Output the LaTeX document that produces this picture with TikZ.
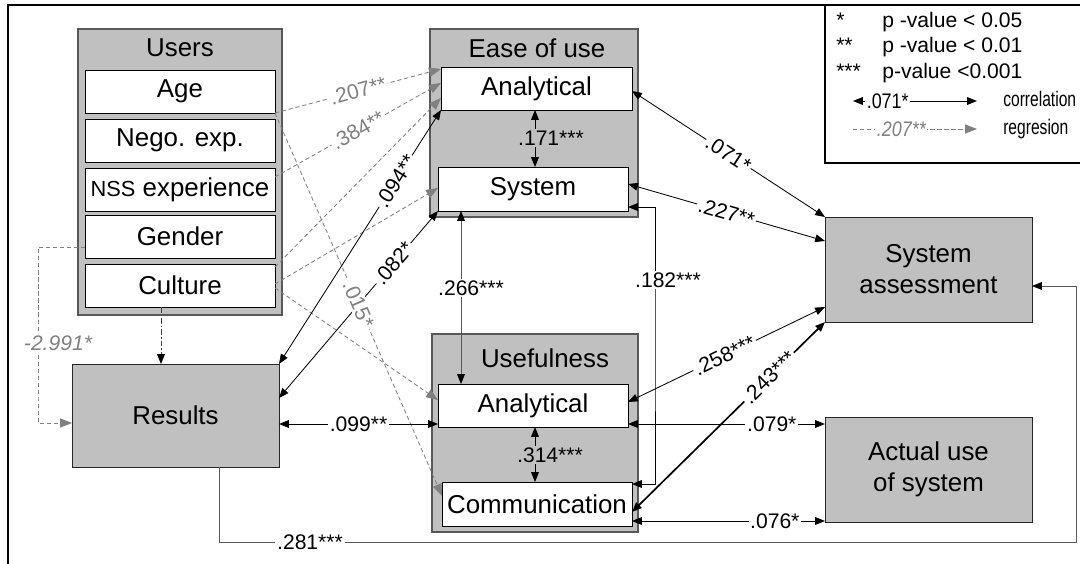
\documentclass[tikz,border=0pt]{standalone}
\usepackage{fontspec}
\setmainfont{Liberation Sans}
\usepackage{graphicx}
\usetikzlibrary{arrows.meta}
\definecolor{boxgray}{RGB}{192,192,192}
\definecolor{reggray}{RGB}{128,128,128}
\newcommand{\bfs}{\fontsize{18.4}{22}\selectfont}
\newcommand{\lfs}{\fontsize{15}{17}\selectfont}
\begin{document}
\begin{tikzpicture}[x=0.025cm,y=-0.025cm,
  sz/.style 2 args={minimum width=#1*0.025cm,minimum height=#2*0.025cm},
  grp/.style={draw=black!65,fill=boxgray,line width=1pt,inner sep=0pt,outer sep=0pt},
  wbox/.style={draw=black,fill=white,line width=0.6pt,inner sep=0pt,outer sep=0pt,font=\bfs},
  gbox/.style={draw=black!85,fill=boxgray,line width=0.7pt,inner sep=0pt,outer sep=0pt,font=\bfs,align=center},
  ttl/.style={font=\bfs,inner sep=0pt},
  lt/.style={font=\lfs,inner sep=0pt,anchor=base west},
  corr/.style={line width=0.6pt,arrows={Triangle[length=7pt,width=5.5pt,color=black]-Triangle[length=7pt,width=5.5pt,color=black]}},
  sline/.style={draw=black!65,line width=0.7pt,arrows={-Triangle[length=7pt,width=5.5pt,color=black]}},
  reg/.style={draw=reggray,line width=0.6pt,dash pattern=on 3pt off 2pt,arrows={-Triangle[length=8.5pt,width=6.5pt]}},
  cdash/.style={draw=black!75,line width=0.7pt,dash pattern=on 4pt off 1.5pt on 1pt off 1.5pt,arrows={-Triangle[length=7pt,width=5.5pt,color=black]}},
  lbl/.style={font=\lfs,fill=white,inner sep=1.2pt},
  glbl/.style={lbl,text=reggray}]
\useasboundingbox (0,0) rectangle (1080,564);
\clip (0,0) rectangle (1080,564);
\fill[white] (0,0) rectangle (1080,564);
% frame
\draw[line width=1pt] (8,570) -- (8,5) -- (1090,5);
% legend
\node[draw=black,line width=0.9pt,fill=white,inner sep=0pt,sz={270}{158}] (leg) at (960,84) {};
\node[lt] (k1) at (836,28) {*};
\node[lt] (v1) at (882,28) {p -value < 0.05};
\node[lt] (k2) at (836,53) {**};
\node[lt] (v2) at (882,53) {p -value < 0.01};
\node[lt] (k3) at (836,79) {***};
\node[lt] (v3) at (882,79) {p-value <0.001};
\coordinate (c4a) at (853,101);
\coordinate (c4b) at (977,101);
\coordinate (c5a) at (853,129);
\coordinate (c5b) at (977,129);
\node[lt] (v4) at (1003,107) {\scalebox{0.74}[1]{correlation}};
\node[lt] (v5) at (1003,135) {\scalebox{0.74}[1]{regresion}};
% boxes
\node[grp,sz={204}{286}] (users) at (180,172) {};
\node[ttl] (usersT) at (180,48) {Users};
\node[wbox,sz={190}{43}] (age) at (180,91.5) {Age};
\node[wbox,sz={190}{43}] (nego) at (180,140.5) {Nego. exp.};
\node[wbox,sz={190}{43}] (nss) at (180,189.5) {{\fontsize{15.5}{18}\selectfont NSS} experience};
\node[wbox,sz={190}{43}] (gen) at (180,236.5) {Gender};
\node[wbox,sz={190}{43}] (cul) at (180,285.5) {Culture};
\node[grp,sz={208}{188}] (ease) at (534,123) {};
\node[ttl] (easeT) at (537,48) {Ease of use};
\node[wbox,sz={191}{43}] (eaA) at (536.5,88.5) {Analytical};
\node[wbox,sz={190}{44}] (eS) at (533,189) {System};
\node[grp,sz={206}{198}] (use) at (535,433) {};
\node[ttl] (useT) at (545,358) {Usefulness};
\node[wbox,sz={190}{43}] (uA) at (533,405.5) {Analytical};
\node[wbox,sz={190}{44}] (uC) at (537,504) {Communication};
\node[gbox,sz={207}{103}] (res) at (175.5,415.5) {Results};
\node[gbox,sz={207}{105}] (sa) at (928.5,269.5) {System\\assessment};
\node[gbox,sz={207}{105}] (au) at (928.5,469.5) {Actual use\\of system};
% legend lines
\draw[corr] (c4a) -- (c4b);
\draw[reg] (c5a) -- (c5b);
% regression lines
\draw[reg] (age.south east) -- (eaA.west |- 0,69);
\draw[reg] (nss.east |- 0,177) -- (eaA.west |- 0,83);
\draw[reg] (cul.east |- 0,267) -- (eaA.west |- 0,98);
\draw[reg] (cul.east |- 0,284) -- (eS.west |- 0,188);
\draw[reg] (cul.east |- 0,288) -- (uA.west |- 0,400);
\draw[reg] (age.south east) -- (uC.west |- 0,496);
\draw[reg] (gen.west |- 0,247) -| (38,400) |- (res.west |- 0,423);
\draw[cdash] (cul.south -| 161,0) -- (res.north -| 161,0);
% correlations
\draw[corr] (res.north east) -- (eaA.south west);
\draw[corr] (res.east |- 0,398) -- (eS.south west);
\draw[corr] (res.east |- 0,424) -- (uA.west |- 0,424);
\draw[corr] (eaA.south -| 535,0) -- (eS.north -| 535,0);
\draw[corr] (uA.south -| 535,0) -- (uC.north -| 535,0);
\draw[corr,draw=black!65] (eS.south -| 461,0) -- (uA.north -| 461,0);
\draw[corr] (eS.east |- 0,207) -| (655,340) |- (uC.east |- 0,484);
\draw[corr] (eaA.east |- 0,91) -- (sa.north west);
\draw[corr] (eS.east |- 0,184) -- (sa.west |- 0,241);
\draw[corr] (uA.east |- 0,402) -- (sa.west |- 0,307);
\draw[corr,line width=1.2pt] (uC.east |- 0,512) -- (sa.south west);
\draw[corr] (uA.east |- 0,424) -- (au.west |- 0,424);
\draw[corr] (uC.east |- 0,521) -- (au.west |- 0,521);
\draw[sline] (res.south -| 219,0) |- (1076,542) |- (sa.east |- 0,286);
% labels
\path (c4a) -- (c4b) node[lbl,pos=0.28] (l4) {\scalebox{0.85}[1]{.071*}};
\path (c5a) -- (c5b) node[glbl,pos=0.39] (l5) {\scalebox{0.85}[1]{\itshape .207**}};
\path (age.south east) -- (eaA.west |- 0,69) node[glbl,sloped,pos=0.5] (l207) {.207**};
\path (nss.east |- 0,177) -- (eaA.west |- 0,83) node[glbl,sloped,pos=0.5] (l384) {.384**};
\path (age.south east) -- (uC.west |- 0,496) node[glbl,sloped,pos=0.5] (l015) {.015*};
\path (res.north east) -- (eaA.south west) node[lbl,sloped,pos=0.72] (l094) {.094**};
\path (res.east |- 0,398) -- (eS.south west) node[lbl,sloped,pos=0.72] (l082) {.082*};
\path (res.east |- 0,424) -- (uA.west |- 0,424) node[lbl,pos=0.5] (l099) {.099**};
\path (eaA.east |- 0,91) -- (sa.north west) node[lbl,sloped,pos=0.5] (l071) {.071*};
\path (eS.east |- 0,184) -- (sa.west |- 0,241) node[lbl,sloped,pos=0.5] (l227) {.227**};
\path (uA.east |- 0,402) -- (sa.west |- 0,307) node[lbl,sloped,pos=0.49] (l258) {.258***};
\path (uC.east |- 0,512) -- (sa.south west) node[lbl,sloped,pos=0.71] (l243) {.243***};
\path (uA.east |- 0,424) -- (au.west |- 0,424) node[lbl,pos=0.73] (l079) {.079*};
\path (uC.east |- 0,521) -- (au.west |- 0,521) node[lbl,pos=0.74] (l076) {.076*};
\node[lbl,fill=boxgray] (l171) at (551,138) {.171***};
\node[lbl,fill=boxgray] (l314) at (550,455) {.314***};
\node[lbl] (l266) at (471,288) {.266***};
\node[lbl] (l182) at (668,280) {.182***};
\node[lbl] (l281) at (310,542) {.281***};
\node[glbl,font=\lfs\itshape] (l2991) at (58,343) {-2.991*};
\end{tikzpicture}
\end{document}
